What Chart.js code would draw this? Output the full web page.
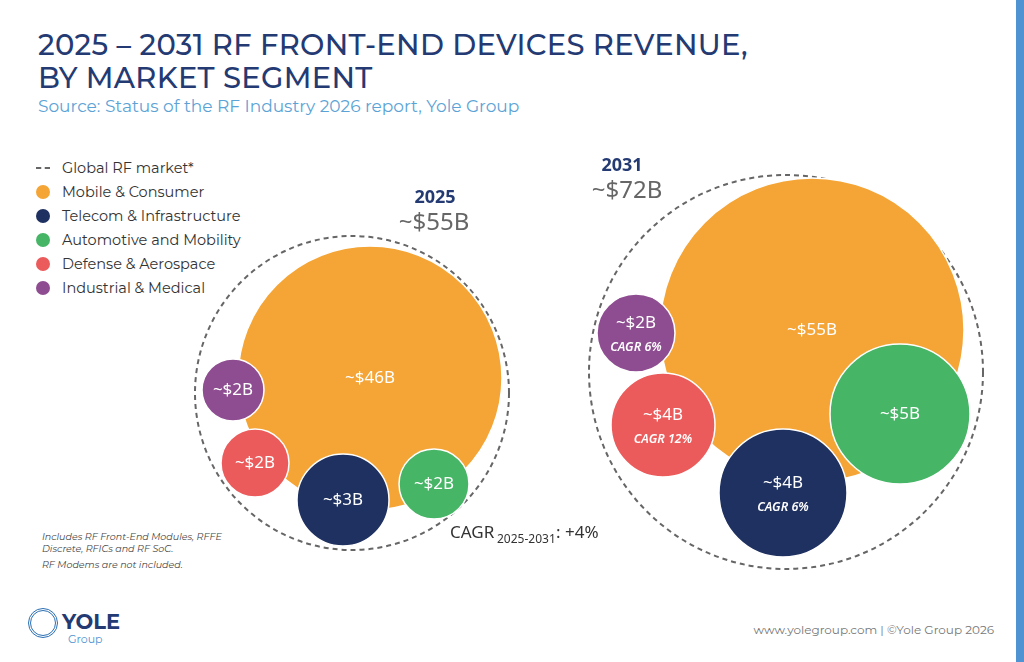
<!DOCTYPE html>
<html><head><meta charset="utf-8">
<script src="https://cdn.jsdelivr.net/npm/chart.js@4"></script>
<style>
body{margin:0;width:1024px;height:662px;background:#fff;font-family:Montserrat,"Noto Sans",sans-serif;position:relative;overflow:hidden}
#c{position:absolute;left:0;top:0}
.t{position:absolute;left:38px;top:28px;color:#243a73;font-size:29px;line-height:33px;font-weight:500;letter-spacing:0.3px}
.s{position:absolute;left:38px;top:96px;color:#5ba3d6;font-size:17px}
.lg{position:absolute;left:36px;top:156px;font-size:14.5px;color:#333}
.lg div{height:24px;display:flex;align-items:center}
.dot{width:14px;height:14px;border-radius:50%;margin-right:12px}
.note{position:absolute;left:42px;top:531px;font-size:9.5px;font-style:italic;color:#444;line-height:12px}
.bar{position:absolute;right:0;top:0;width:8px;height:662px;background:#4f93d2}
.foot{position:absolute;right:30px;top:622px;font-size:12px;color:#777}
.logo{position:absolute;left:28px;top:608px;color:#243a73;font-weight:bold;font-size:21px}
</style></head><body>
<div class="bar"></div>
<div class="t">2025 – 2031 RF FRONT-END DEVICES REVENUE,<br>BY MARKET SEGMENT</div>
<div class="s">Source: Status of the RF Industry 2026 report, Yole Group</div>
<div class="lg">
<div><span style="width:14px;margin-right:12px;border-top:2px dashed #666"></span>Global RF market*</div>
<div><span class="dot" style="background:#f4a535"></span>Mobile &amp; Consumer</div>
<div><span class="dot" style="background:#1f3160"></span>Telecom &amp; Infrastructure</div>
<div><span class="dot" style="background:#46b566"></span>Automotive and Mobility</div>
<div><span class="dot" style="background:#ec5b5b"></span>Defense &amp; Aerospace</div>
<div><span class="dot" style="background:#8e4d91"></span>Industrial &amp; Medical</div>
</div>
<div class="note">Includes RF Front-End Modules, RFFE<br>Discrete, RFICs and RF SoC.<br><div style="margin-top:4px">RF Modems are not included.</div></div>
<div class="logo"><span style="display:inline-block;width:30px;height:30px;border-radius:50%;border:3px double #2b6fb3;vertical-align:middle;margin-right:4px;box-sizing:border-box"></span>YOLE<div style="font-size:11px;color:#4f93d2;margin-left:40px;margin-top:-6px;font-weight:normal">Group</div></div>
<div class="foot">www.yolegroup.com | ©Yole Group 2026</div>
<canvas id="c" width="1024" height="662"></canvas>
<script>
var segments = ["Mobile & Consumer","Telecom & Infrastructure","Automotive and Mobility","Defense & Aerospace","Industrial & Medical"];
var colors = ["#f4a535","#1f3160","#46b566","#ec5b5b","#8e4d91"];
var labels2025 = ["~$46B","~$3B","~$2B","~$2B","~$2B"];
var labels2031 = ["~$55B","~$4B","~$5B","~$4B","~$2B"];
var cagr2031 = ["","CAGR 6%","","CAGR 12%","CAGR 6%"];
var x2025 = [370,343,434,255,233], y2025 = [378,500,484,463,390], r2025 = [132,46,35,34,31];
var x2031 = [812,783,900,663,636], y2031 = [330,493,414,425,333], r2031 = [152,64,70,52,39];
var totals = [{year:"2025",label:"~$55B",x:352,y:393,r:157},{year:"2031",label:"~$72B",x:786,y:372,r:197}];

var datasets = [];
for (var i = 0; i < segments.length; i++) {
  datasets.push({
    label: segments[i],
    order: i === 0 ? 10 : i,
    clip: false,
    backgroundColor: colors[i],
    borderColor: "#fff",
    borderWidth: 1.5,
    data: [
      {x:x2025[i], y:y2025[i], r:r2025[i], t:labels2025[i], c:""},
      {x:x2031[i], y:y2031[i], r:r2031[i], t:labels2031[i], c:cagr2031[i]}
    ]
  });
}

var overlay = {
  id: "overlay",
  beforeDatasetsDraw: function(chart) {
    var ctx = chart.ctx, sx = chart.scales.x, sy = chart.scales.y;
    ctx.save();
    ctx.setLineDash([5,4]); ctx.strokeStyle = "#666"; ctx.lineWidth = 2;
    totals.forEach(function(t){
      ctx.beginPath();
      ctx.arc(sx.getPixelForValue(t.x), sy.getPixelForValue(t.y), t.r, 0, Math.PI*2);
      ctx.stroke();
    });
    ctx.restore();
  },
  afterDatasetsDraw: function(chart) {
    var ctx = chart.ctx, sx = chart.scales.x, sy = chart.scales.y;
    ctx.save();
    ctx.fillStyle = "#fff"; ctx.textAlign = "center"; ctx.textBaseline = "middle";
    chart.data.datasets.forEach(function(ds){
      ds.data.forEach(function(p){
        var px = sx.getPixelForValue(p.x), py = sy.getPixelForValue(p.y);
        ctx.font = "17px 'Noto Sans', sans-serif";
        if (p.c) {
          ctx.fillText(p.t, px, py - 10);
          ctx.font = "italic 600 12.5px 'Noto Sans', sans-serif";
          ctx.fillText(p.c, px, py + 14);
        } else ctx.fillText(p.t, px, py);
      });
    });
    ctx.fillStyle = "#243a73"; ctx.font = "bold 18px 'Noto Sans', sans-serif";
    ctx.fillText("2025", 435, 198); ctx.fillText("2031", 622, 166);
    ctx.fillStyle = "#666"; ctx.font = "24px 'Noto Sans', sans-serif";
    ctx.fillText("~$55B", 434, 223); ctx.fillText("~$72B", 627, 191);
    ctx.textAlign = "left"; ctx.fillStyle = "#333"; ctx.font = "17px 'Noto Sans', sans-serif";
    ctx.fillText("CAGR", 450, 533);
    ctx.font = "12px 'Noto Sans', sans-serif"; ctx.fillText("2025-2031", 497, 540);
    ctx.font = "17px 'Noto Sans', sans-serif"; ctx.fillText(": +4%", 556, 533);
    ctx.restore();
  }
};

new Chart(document.getElementById("c"), {
  type: "bubble",
  data: {datasets: datasets},
  options: {
    responsive: false, animation: false,
    layout: {padding: 0, autoPadding: false},
    plugins: {legend: {display: false}, tooltip: {enabled: false}},
    scales: {
      x: {type: "linear", min: 0, max: 1024, display: false},
      y: {type: "linear", min: 0, max: 662, reverse: true, display: false}
    }
  },
  plugins: [overlay]
});
</script>
</body></html>
